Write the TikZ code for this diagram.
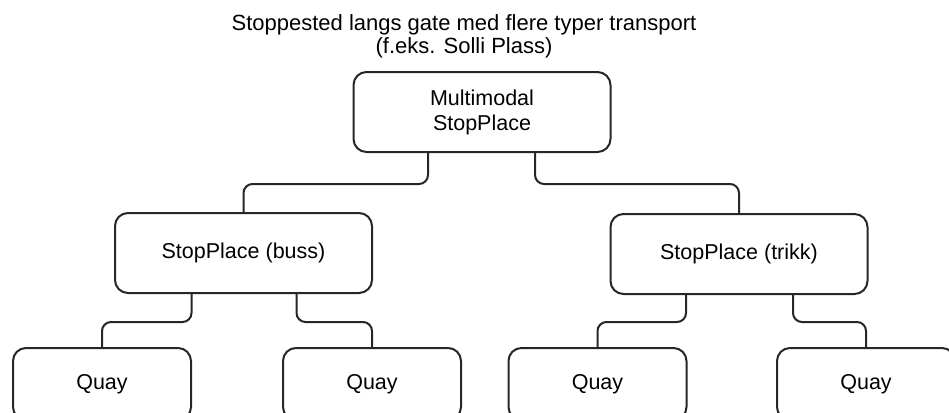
\documentclass[tikz,border=0pt]{standalone}
\usepackage{fontspec}
\setmainfont{Liberation Sans}

\tikzset{
  box/.style={draw=black!85, line width=2pt, rounded corners=13pt, align=center,
    inner sep=0pt, minimum width=257pt, minimum height=80pt,
    font=\fontsize{21.5}{25}\selectfont},
  quaybox/.style={box, minimum width=178pt, minimum height=72pt},
  link/.style={draw=black!85, line width=2pt, rounded corners=9pt},
}

\begin{document}
\begin{tikzpicture}[x=1pt, y=-1pt]
    \useasboundingbox (0,0) rectangle (949,412);

    \node[font=\fontsize{22}{23}\selectfont, align=center] (title) at (464,36)
        {Stoppested langs gate med flere typer transport\\(f.eks. Solli Plass)};

    \node[box] (multi) at (482,112) {Multimodal\\StopPlace};
    \node[box] (buss) at (243.5,253) {StopPlace (buss)};
    \node[box] (trikk) at (739,254) {StopPlace (trikk)};

    \node[quaybox] (q1) at (102,384) {Quay};
    \node[quaybox] (q2) at (372,384) {Quay};
    \node[quaybox] (q3) at (597.5,384) {Quay};
    \node[quaybox] (q4) at (866,384) {Quay};

    % top level
    \draw[link] ([xshift=-54pt]multi.south) -- ++(0,31) -| (buss.north);
    \draw[link] ([xshift=53pt]multi.south) -- ++(0,31) -| (trikk.north);

    % quays
    \draw[link] ([xshift=-52pt]buss.south) -- ++(0,28) -| (q1.north);
    \draw[link] ([xshift=53pt]buss.south) -- ++(0,28) -| (q2.north);
    \draw[link] ([xshift=-53pt]trikk.south) -- ++(0,27) -| (q3.north);
    \draw[link] ([xshift=54pt]trikk.south) -- ++(0,27) -| (q4.north);

\end{tikzpicture}
\end{document}
